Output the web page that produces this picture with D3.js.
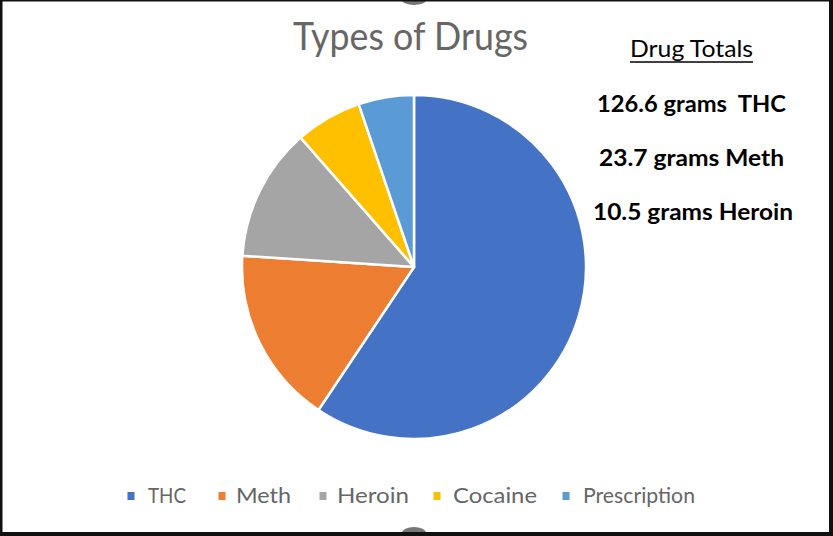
<!DOCTYPE html>
<html>
<head>
<meta charset="utf-8">
<script src="https://cdn.jsdelivr.net/npm/d3@7"></script>
<style>
  html, body { margin: 0; padding: 0; background: #fff; }
  svg { display: block; }
</style>
</head>
<body>
<script>
(function(window){
    'use strict'

    // slice shares (angles), in the order drawn clockwise from 12 o'clock
    var categories = ['THC', 'Meth', 'Heroin', 'Cocaine', 'Prescription'];
    var values = [57, 16, 12, 6, 5];
    var colors = ['#4472C4', '#ED7D31', '#A5A5A5', '#FFC000', '#5B9BD5'];

    // side note text
    var totalsTitle = 'Drug Totals';
    var totalsLines = ['126.6 grams\u00a0\u00a0THC', '23.7 grams Meth', '10.5 grams Heroin'];

    var W = 833, H = 536;
    var cx = 414, cy = 267, radius = 172;

    var svg = d3.select('body').append('svg')
        .attr('width', W)
        .attr('height', H);

    svg.append('rect')
        .attr('width', W).attr('height', H)
        .attr('fill', '#fff');

    // title
    svg.append('text')
        .attr('x', 293).attr('y', 50)
        .attr('textLength', 235)
        .attr('lengthAdjust', 'spacingAndGlyphs')
        .style('font-family', 'Lato, "Open Sans", sans-serif')
        .style('font-size', '38px')
        .attr('fill', '#666')
        .text('Types of Drugs');

    // pie
    var pie = d3.pie().sort(null).value(function(d){ return d; });
    var arc = d3.arc().innerRadius(0).outerRadius(radius);
    var color = d3.scaleOrdinal().domain(categories).range(colors);

    var g = svg.append('g')
        .attr('transform', 'translate(' + cx + ',' + cy + ')');

    g.selectAll('path')
        .data(pie(values))
        .enter().append('path')
        .attr('d', arc)
        .attr('fill', function(d, i){ return color(categories[i]); })
        .attr('stroke', '#fff')
        .attr('stroke-width', 2.5)
        .attr('stroke-linejoin', 'round');

    // right-hand totals
    svg.append('text')
        .attr('x', 630).attr('y', 57)
        .attr('textLength', 123)
        .attr('lengthAdjust', 'spacingAndGlyphs')
        .style('font-family', 'Lato, "Open Sans", sans-serif')
        .style('font-size', '23px')
        .attr('fill', '#000')
        .text(totalsTitle);
    svg.append('line')
        .attr('x1', 630).attr('x2', 753)
        .attr('y1', 62).attr('y2', 62)
        .attr('stroke', '#000').attr('stroke-width', 1.6);

    var lineSpec = [
        {x: 597, y: 112, w: 189},
        {x: 599, y: 166, w: 185},
        {x: 593, y: 220, w: 200}
    ];
    svg.selectAll('text.total')
        .data(totalsLines)
        .enter().append('text')
        .attr('class', 'total')
        .attr('x', function(d, i){ return lineSpec[i].x; })
        .attr('y', function(d, i){ return lineSpec[i].y; })
        .attr('textLength', function(d, i){ return lineSpec[i].w; })
        .attr('lengthAdjust', 'spacingAndGlyphs')
        .style('font-family', 'Lato, "Open Sans", sans-serif')
        .style('font-size', '23px')
        .style('font-weight', 'bold')
        .attr('fill', '#000')
        .text(function(d){ return d; });

    // legend
    var legendSq = [131, 222, 323, 437, 566];
    var legendX = [148, 236, 337, 453, 583];
    var legendW = [38, 55, 72, 84, 112];
    var legend = svg.append('g').attr('class', 'legend');
    var item = legend.selectAll('g')
        .data(categories)
        .enter().append('g');
    item.append('rect')
        .attr('x', function(d, i){ return legendSq[i] - 3.5; })
        .attr('y', 492)
        .attr('width', 7).attr('height', 8)
        .attr('fill', function(d){ return color(d); });
    item.append('text')
        .attr('x', function(d, i){ return legendX[i]; })
        .attr('y', 503)
        .attr('textLength', function(d, i){ return legendW[i]; })
        .attr('lengthAdjust', 'spacingAndGlyphs')
        .style('font-family', 'Lato, "Open Sans", sans-serif')
        .style('font-size', '21px')
        .attr('fill', '#666')
        .text(function(d){ return d; });

    // Excel selection handles peeking in at top and bottom
    svg.append('ellipse')
        .attr('cx', 414).attr('cy', 0).attr('rx', 12).attr('ry', 5)
        .attr('fill', '#777');
    svg.append('ellipse')
        .attr('cx', 414).attr('cy', 533).attr('rx', 12).attr('ry', 6)
        .attr('fill', '#777');

    // black frame
    svg.append('rect').attr('x', 0).attr('y', 0).attr('width', 2.5).attr('height', H).attr('fill', '#111');
    svg.append('rect').attr('x', 0).attr('y', 0).attr('width', W).attr('height', 1.5).attr('fill', '#111');
    svg.append('rect').attr('x', 829).attr('y', 0).attr('width', 4).attr('height', H).attr('fill', '#111');
    svg.append('rect').attr('x', 0).attr('y', 532).attr('width', W).attr('height', 4).attr('fill', '#111');

})(window);
</script>
</body>
</html>
